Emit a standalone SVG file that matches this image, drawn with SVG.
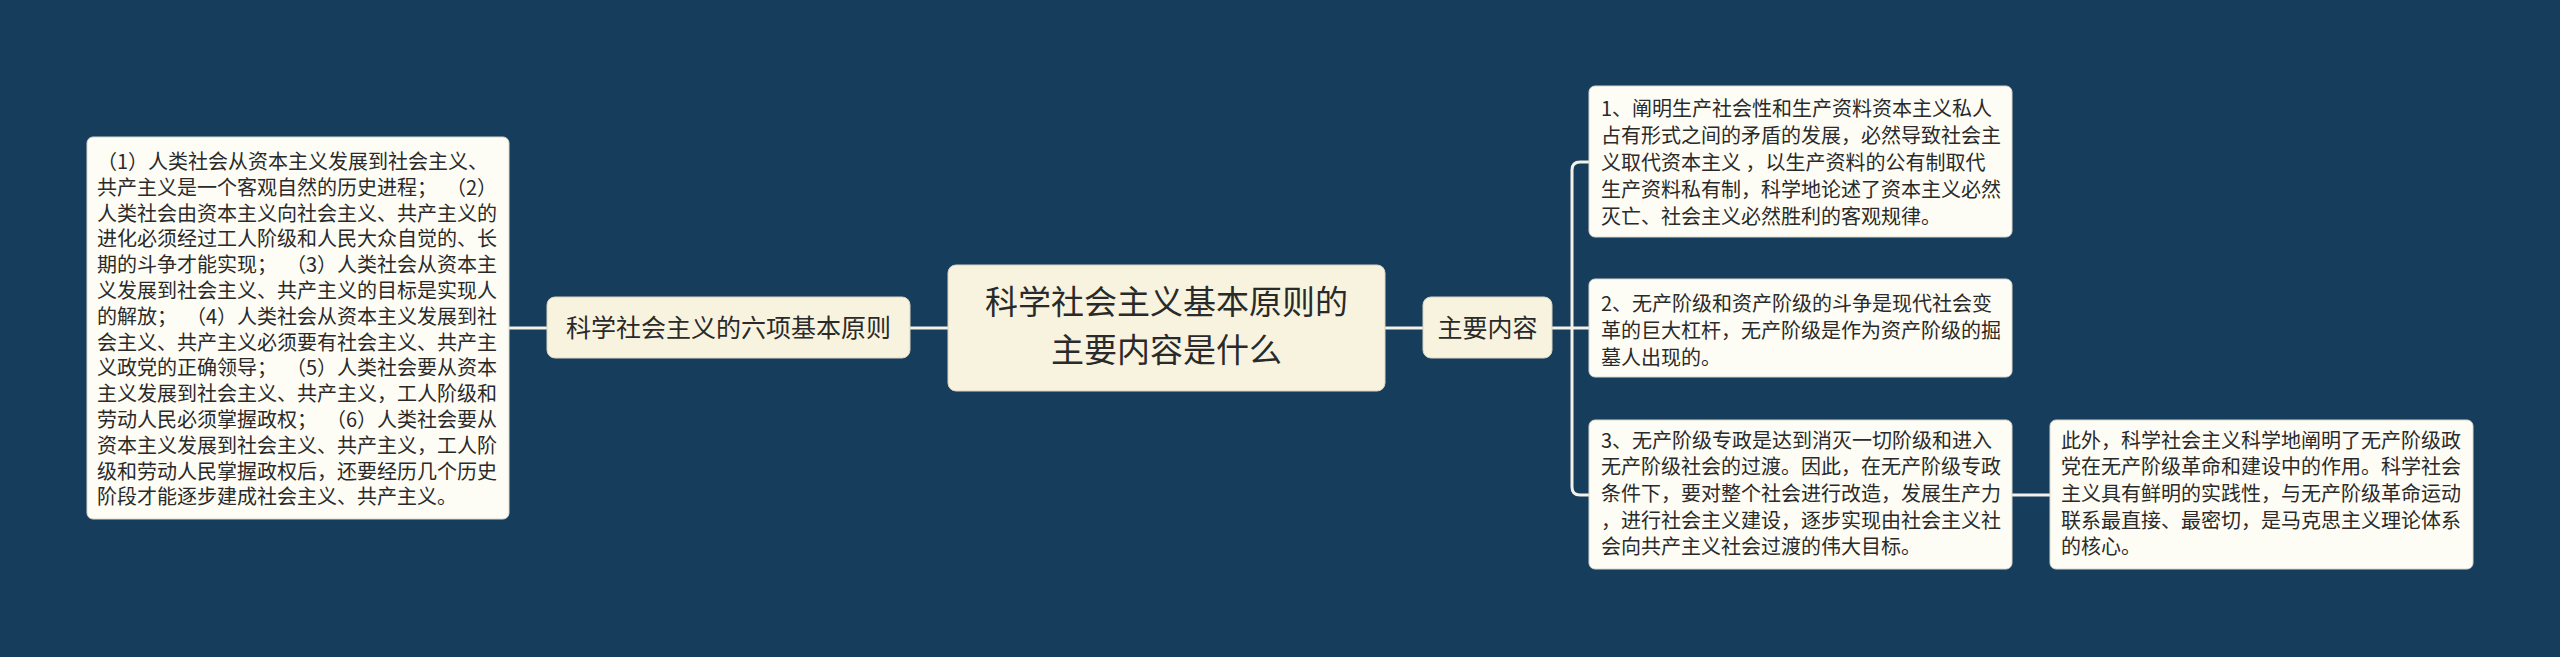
<svg xmlns="http://www.w3.org/2000/svg" width="2560" height="657" viewBox="0 0 2560 657">
<style>
.bg{fill:#163d5c}
.main{fill:#f8f3df;stroke:#d9d4c0;stroke-width:1}
.sub{fill:#f8f3df;stroke:#d9d4c0;stroke-width:1}
.leaf{fill:#fefdf5;stroke:#d8d8cc;stroke-width:1}
.conn{fill:none;stroke:#f4f2e8;stroke-width:3;stroke-linecap:round}
text{font-family:"Noto Sans CJK SC","Noto Sans",sans-serif;fill:#2a2a2a}
.t34{font-size:33px}
.t25{font-size:25px}
.t20{font-size:20px;white-space:pre}
</style>
<rect class="bg" x="0" y="0" width="2560" height="657"/>
<g id="connectors">
<path class="conn" d="M948 328H910"/>
<path class="conn" d="M547 328H509"/>
<path class="conn" d="M1385 328H1423"/>
<path class="conn" d="M1552 328H1589"/>
<path class="conn" d="M1589 162H1580Q1572 162 1572 170V487Q1572 495 1580 495H1589"/>
<path class="conn" d="M2012 495H2050"/>
</g>
<g id="root">
<rect class="main" x="948" y="265" width="437" height="126" rx="8"/>
<text class="t34" x="1166.5" y="314" text-anchor="middle">科学社会主义基本原则的</text>
<text class="t34" x="1166.5" y="362" text-anchor="middle">主要内容是什么</text>
</g>
<g id="n-six">
<rect class="sub" x="547" y="297" width="363" height="61" rx="8"/>
<text class="t25" x="728.5" y="337" text-anchor="middle">科学社会主义的六项基本原则</text>
</g>
<g id="n-main">
<rect class="sub" x="1423" y="297" width="129" height="61" rx="8"/>
<text class="t25" x="1487.5" y="337" text-anchor="middle">主要内容</text>
</g>
<g id="n-left" xml:space="preserve">
<rect class="leaf" x="87" y="137" width="422" height="382" rx="6"/>
<text class="t20" x="97" y="169">（1）人类社会从资本主义发展到社会主义、</text>
<text class="t20" x="97" y="194.8">共产主义是一个客观自然的历史进程；  （2）</text>
<text class="t20" x="97" y="220.6">人类社会由资本主义向社会主义、共产主义的</text>
<text class="t20" x="97" y="246.4">进化必须经过工人阶级和人民大众自觉的、长</text>
<text class="t20" x="97" y="272.2">期的斗争才能实现；  （3）人类社会从资本主</text>
<text class="t20" x="97" y="298">义发展到社会主义、共产主义的目标是实现人</text>
<text class="t20" x="97" y="323.8">的解放；  （4）人类社会从资本主义发展到社</text>
<text class="t20" x="97" y="349.6">会主义、共产主义必须要有社会主义、共产主</text>
<text class="t20" x="97" y="375.4">义政党的正确领导；  （5）人类社会要从资本</text>
<text class="t20" x="97" y="401.2">主义发展到社会主义、共产主义，工人阶级和</text>
<text class="t20" x="97" y="427">劳动人民必须掌握政权；  （6）人类社会要从</text>
<text class="t20" x="97" y="452.8">资本主义发展到社会主义、共产主义，工人阶</text>
<text class="t20" x="97" y="478.6">级和劳动人民掌握政权后，还要经历几个历史</text>
<text class="t20" x="97" y="504.4">阶段才能逐步建成社会主义、共产主义。</text>
</g>
<g id="n-1" xml:space="preserve">
<rect class="leaf" x="1589" y="86" width="423" height="151" rx="6"/>
<text class="t20" x="1601" y="116">1、阐明生产社会性和生产资料资本主义私人</text>
<text class="t20" x="1601" y="143">占有形式之间的矛盾的发展，必然导致社会主</text>
<text class="t20" x="1601" y="170">义取代资本主义 ，以生产资料的公有制取代</text>
<text class="t20" x="1601" y="197">生产资料私有制，科学地论述了资本主义必然</text>
<text class="t20" x="1601" y="224">灭亡、社会主义必然胜利的客观规律。</text>
</g>
<g id="n-2" xml:space="preserve">
<rect class="leaf" x="1589" y="279" width="423" height="98" rx="6"/>
<text class="t20" x="1601" y="310.5">2、无产阶级和资产阶级的斗争是现代社会变</text>
<text class="t20" x="1601" y="337.5">革的巨大杠杆，无产阶级是作为资产阶级的掘</text>
<text class="t20" x="1601" y="364.5">墓人出现的。</text>
</g>
<g id="n-3" xml:space="preserve">
<rect class="leaf" x="1589" y="420" width="423" height="149" rx="6"/>
<text class="t20" x="1601" y="447.5">3、无产阶级专政是达到消灭一切阶级和进入</text>
<text class="t20" x="1601" y="474.2">无产阶级社会的过渡。因此，在无产阶级专政</text>
<text class="t20" x="1601" y="500.9">条件下，要对整个社会进行改造，发展生产力</text>
<text class="t20" x="1601" y="527.6">，进行社会主义建设，逐步实现由社会主义社</text>
<text class="t20" x="1601" y="554.3">会向共产主义社会过渡的伟大目标。</text>
</g>
<g id="n-4" xml:space="preserve">
<rect class="leaf" x="2050" y="420" width="423" height="149" rx="6"/>
<text class="t20" x="2061" y="447.5">此外，科学社会主义科学地阐明了无产阶级政</text>
<text class="t20" x="2061" y="474.2">党在无产阶级革命和建设中的作用。科学社会</text>
<text class="t20" x="2061" y="500.9">主义具有鲜明的实践性，与无产阶级革命运动</text>
<text class="t20" x="2061" y="527.6">联系最直接、最密切，是马克思主义理论体系</text>
<text class="t20" x="2061" y="554.3">的核心。</text>
</g>
</svg>
